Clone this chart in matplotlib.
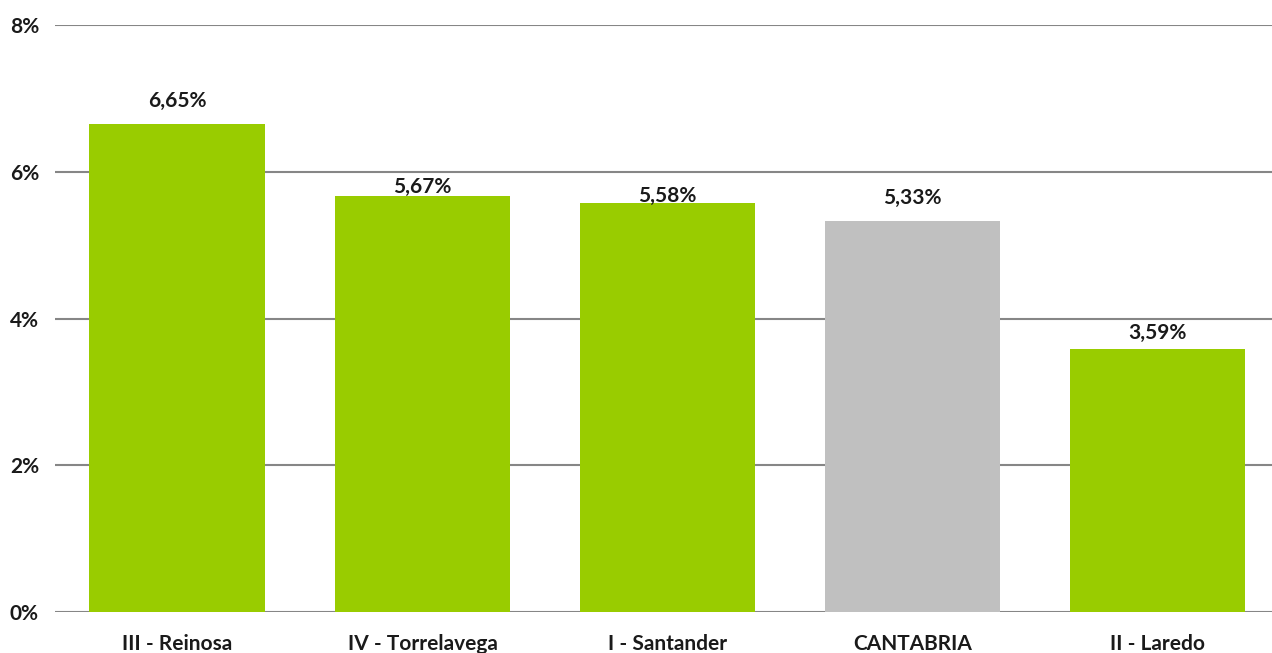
import numpy as np
import matplotlib
matplotlib.use("Agg")
import matplotlib.pyplot as plt
from matplotlib.ticker import FuncFormatter

categories = ['III - Reinosa', 'IV - Torrelavega', 'I - Santander', 'CANTABRIA', 'II - Laredo']
values = [6.65, 5.67, 5.58, 5.33, 3.59]
labels = ['6,65%', '5,67%', '5,58%', '5,33%', '3,59%']

colors = ['#99CC00', '#99CC00', '#99CC00', '#C0C0C0', '#99CC00']
# separación del centro de cada etiqueta respecto al extremo de la barra (puntos)
label_pad = [16.5, 6.5, 5, 16.5, 11]

plt.rcParams['font.family'] = ['Lato', 'DejaVu Sans']

fig = plt.figure(figsize=(12.72, 6.53), dpi=100)
ax = fig.add_axes([0.0432, 0.0628, 0.9631, 0.8989])

x = np.arange(len(categories))
bars = ax.bar(x, values, width=0.718, color=colors, zorder=3)

for b, lab, pad in zip(bars, labels, label_pad):
    ax.annotate(lab, (b.get_x() + b.get_width() / 2, b.get_height()),
                xytext=(0, pad), textcoords='offset points',
                ha='center', va='center', fontsize=15, fontweight='bold',
                color='#1a1a1a', zorder=4)

ax.set_xlim(-0.5, len(categories) - 0.5)
ax.set_ylim(0, 8)
ax.set_yticks([0, 2, 4, 6, 8])
ax.yaxis.set_major_formatter(FuncFormatter(lambda v, p: f'{v:.0f}%'))
ax.set_xticks(x)
ax.set_xticklabels(categories)

ax.grid(axis='y', color='#868686', linewidth=1.5, zorder=0)
for s in ax.spines.values():
    s.set_visible(False)
ax.tick_params(axis='both', length=0, labelsize=15, colors='#1a1a1a')
ax.tick_params(axis='y', pad=11.5)
ax.tick_params(axis='x', pad=16)
for t in ax.get_xticklabels() + ax.get_yticklabels():
    t.set_fontweight('bold')

fig.savefig('out.png', dpi=100)
